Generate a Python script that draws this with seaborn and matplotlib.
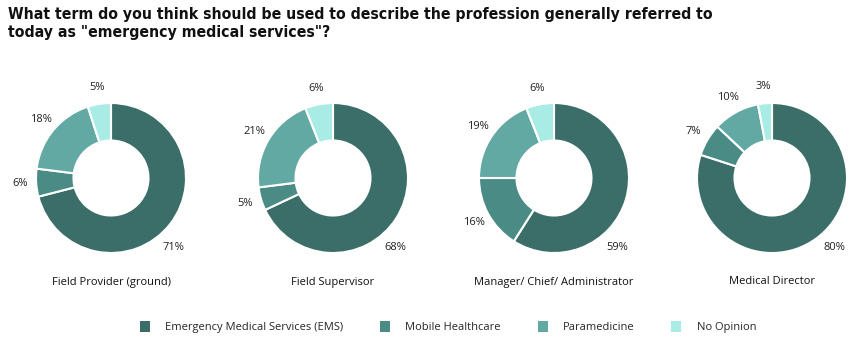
import matplotlib
matplotlib.use("Agg")
import numpy as np
import matplotlib.pyplot as plt
from matplotlib.patches import Patch
import seaborn as sns

# Survey responses by role
roles = ["Field Provider (ground)", "Field Supervisor",
         "Manager/ Chief/ Administrator", "Medical Director"]
terms = ["Emergency Medical Services (EMS)", "Mobile Healthcare",
         "Paramedicine", "No Opinion"]
ems = [71, 68, 59, 80]
mobile = [6, 5, 16, 7]
paramedicine = [18, 21, 19, 10]
no_opinion = [5, 6, 6, 3]

colors = sns.color_palette(["#3b6e68", "#4a8b85", "#62a9a4", "#a9ece5"])

sns.set_theme(style="white")
plt.rcParams["font.family"] = ["Open Sans", "DejaVu Sans"]

W, H = 860, 344
fig = plt.figure(figsize=(W / 100, H / 100), dpi=100)

centers_px = [111, 333, 554, 772]
cy_px = 178
R_px = 75
lim = 1.4
size_px = 2 * lim * R_px
main_label_angle = -48  # the dominant answer's label sits at the lower right

for i, cx in enumerate(centers_px):
    ax = fig.add_axes([(cx - size_px / 2) / W, (H - cy_px - size_px / 2) / H,
                       size_px / W, size_px / H])
    vals = [ems[i], mobile[i], paramedicine[i], no_opinion[i]]
    wedges, _ = ax.pie(vals, colors=colors, startangle=90, counterclock=False,
                       wedgeprops=dict(width=0.5, edgecolor="white", linewidth=1.5))
    for k, (w, v) in enumerate(zip(wedges, vals)):
        ang = main_label_angle if k == 0 else (w.theta1 + w.theta2) / 2
        r = 1.25 if k == 0 else 1.22
        a = np.deg2rad(ang)
        ax.text(r * np.cos(a), r * np.sin(a), f"{v}%", ha="center", va="center",
                fontsize=8, color="#222222")
    ax.set_xlim(-lim, lim)
    ax.set_ylim(-lim, lim)
    ax.set_aspect("equal")
    ax.axis("off")
    fig.text(cx / W, (H - 282) / H, roles[i], ha="center", va="center",
             fontsize=8, color="#111111")

fig.text(8 / W, 1 - 7 / H,
         'What term do you think should be used to describe the profession generally referred to\ntoday as "emergency medical services"?',
         ha="left", va="top", fontsize=11.3, fontweight="bold", color="#111111",
         family="DejaVu Sans", fontstretch="condensed", linespacing=1.25)

handles = [Patch(facecolor=c, edgecolor="none") for c in colors]
fig.legend(handles, terms, loc="center", bbox_to_anchor=(448 / W, 17 / H), ncol=4,
           frameon=False, fontsize=8, handlelength=0.9, handleheight=1.1,
           columnspacing=3.3, handletextpad=1.4)

fig.savefig("out.png", dpi=100)
